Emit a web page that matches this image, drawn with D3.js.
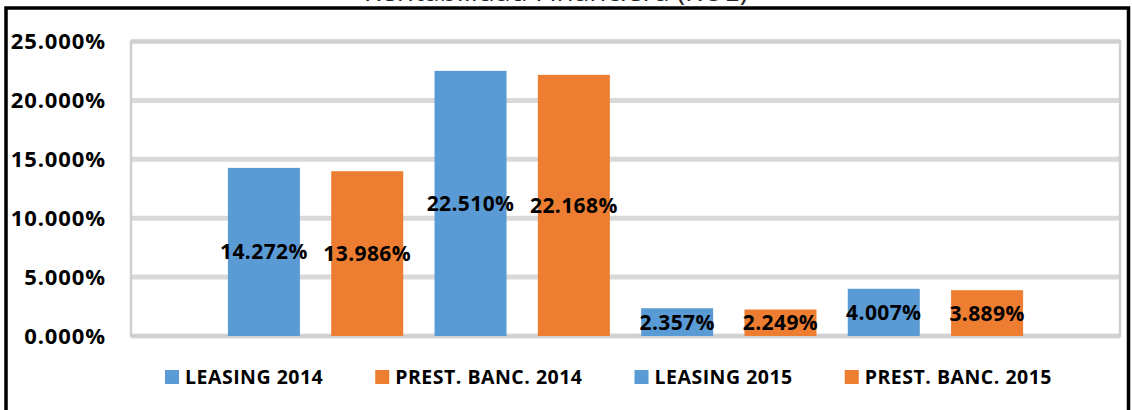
<!DOCTYPE html>
<html>
<head>
<meta charset="utf-8">
<script src="https://cdn.jsdelivr.net/npm/d3@7"></script>
<style>
  body { margin: 0; background: #fff; }
  svg { display: block; font-family: "Open Sans", sans-serif; }
</style>
</head>
<body>
<svg id="chart"></svg>
<script>
// Chart data
const seriesNames = ["LEASING 2014", "PREST. BANC. 2014", "LEASING 2015", "PREST. BANC. 2015"];
const seriesColors = ["#5b9bd5", "#ed7d31", "#5b9bd5", "#ed7d31"];
const groupA = [14.272, 13.986, 22.510, 22.168];
const groupB = [2.357, 2.249, 4.007, 3.889];
const yTicks = [0, 5, 10, 15, 20, 25];
const titleText = "Rentabilidad Financiera (ROE)";

const width = 1132, height = 410;
const plot = { left: 131, right: 1120, top: 41.5, bottom: 336 };

const svg = d3.select("#chart")
    .attr("width", width)
    .attr("height", height);

svg.append("rect")
    .attr("width", width)
    .attr("height", height)
    .attr("fill", "#fff");

// flat list of bars: both groups, four series each
const bars = [];
[groupA, groupB].forEach((vals, g) => {
    vals.forEach((v, i) => bars.push({ id: g + "-" + i, value: v, color: seriesColors[i] }));
});

const x = d3.scaleBand()
    .domain(bars.map(d => d.id))
    .range([plot.left, plot.right])
    .paddingInner(0.303)
    .paddingOuter(0.938);

const y = d3.scaleLinear()
    .domain([0, 25])
    .range([plot.bottom, plot.top]);

// Title (cut off at the top, as in the source picture)
svg.append("text")
    .attr("x", 748)
    .attr("y", 1)
    .attr("text-anchor", "end")
    .style("font-size", "28px")
    .attr("fill", "#222")
    .text(titleText);

// Outer black frame
svg.append("rect")
    .attr("x", 6)
    .attr("y", 8)
    .attr("width", 1122.5)
    .attr("height", 420)
    .attr("fill", "none")
    .attr("stroke", "#000")
    .attr("stroke-width", 3.5);

// Gridlines
svg.append("g")
    .selectAll("line")
    .data(yTicks)
    .enter().append("line")
    .attr("x1", plot.left)
    .attr("x2", plot.right)
    .attr("y1", d => y(d))
    .attr("y2", d => y(d))
    .attr("stroke", "#d9d9d9")
    .attr("stroke-width", 5);

// Plot area border
svg.append("rect")
    .attr("x", plot.left)
    .attr("y", plot.top)
    .attr("width", plot.right - plot.left)
    .attr("height", plot.bottom - plot.top)
    .attr("fill", "none")
    .attr("stroke", "#cfcfcf")
    .attr("stroke-width", 2.5);

// Y axis labels
svg.append("g")
    .selectAll("text")
    .data(yTicks)
    .enter().append("text")
    .attr("x", 106)
    .attr("y", d => y(d))
    .attr("dy", "0.36em")
    .attr("text-anchor", "end")
    .style("font-size", "22px")
    .style("font-weight", "bold")
    .style("letter-spacing", "0.9px")
    .attr("fill", "#000")
    .text(d => d3.format(".3f")(d) + "%");

// Bars
svg.append("g")
    .selectAll("rect")
    .data(bars)
    .enter().append("rect")
    .attr("x", d => x(d.id))
    .attr("y", d => y(d.value))
    .attr("width", x.bandwidth())
    .attr("height", d => y(0) - y(d.value))
    .attr("fill", d => d.color);

// Value labels
svg.append("g")
    .selectAll("text")
    .data(bars)
    .enter().append("text")
    .attr("x", d => x(d.id) + x.bandwidth() / 2)
    .attr("y", d => (y(d.value) + y(0)) / 2)
    .attr("dy", "0.36em")
    .attr("text-anchor", "middle")
    .style("font-size", "21px")
    .style("font-weight", "bold")
    .style("letter-spacing", "0.4px")
    .attr("fill", "#000")
    .text(d => d3.format(".3f")(d.value) + "%");

// Legend
const legend = svg.append("g").attr("transform", "translate(165,377)");
let lx = 0;
seriesNames.forEach((name, i) => {
    const item = legend.append("g").attr("transform", `translate(${lx},0)`);
    item.append("rect")
        .attr("x", 0)
        .attr("y", -7)
        .attr("width", 14)
        .attr("height", 14)
        .attr("fill", seriesColors[i]);
    const t = item.append("text")
        .attr("x", 20)
        .attr("y", 7)
        .style("font-size", "19.5px")
        .style("font-weight", "bold")
        .style("letter-spacing", "0.5px")
        .attr("fill", "#000")
        .text(name);
    lx += 20 + t.node().getComputedTextLength() + 52;
});
</script>
</body>
</html>
